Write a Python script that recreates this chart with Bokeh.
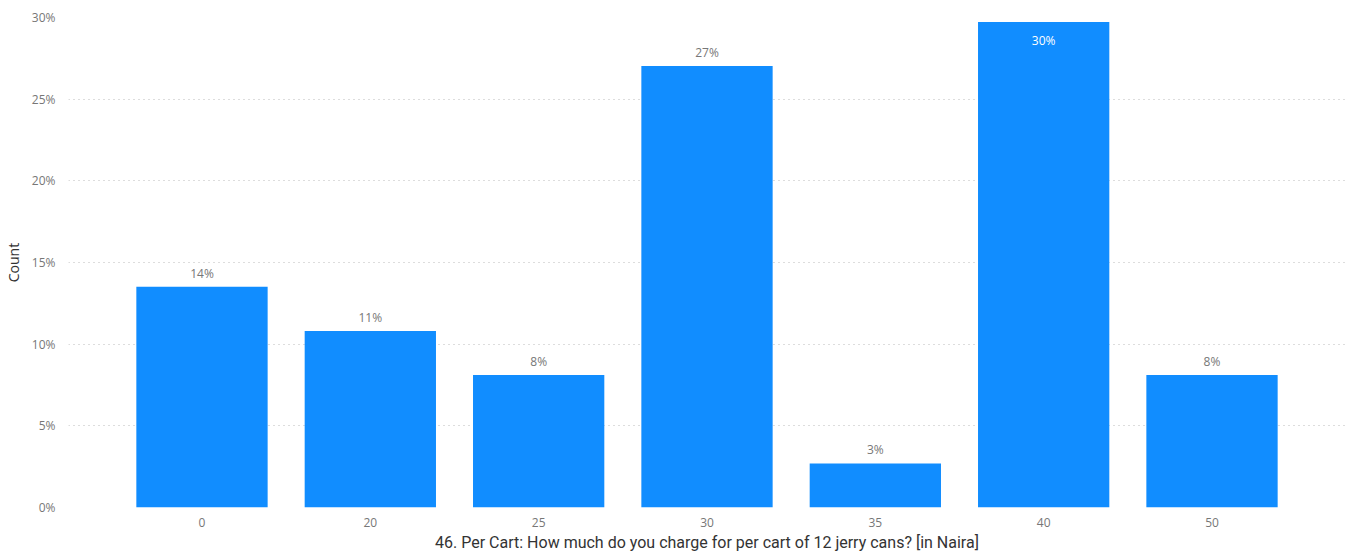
from bokeh.plotting import figure
from bokeh.models import ColumnDataSource, Range1d, NumeralTickFormatter, FixedTicker, LabelSet
from bokeh.core.properties import value
from bokeh.embed import file_html
from bokeh.resources import INLINE

categories = ["0", "20", "25", "30", "35", "40", "50"]
shares = [0.1351, 0.1081, 0.0811, 0.2703, 0.0270, 0.2973, 0.0811]
x_title = "46. Per Cart: How much do you charge for per cart of 12 jerry cans? [in Naira]"
y_title = "Count"

xs = list(range(len(categories)))
labels = [f"{round(v * 100):.0f}%" for v in shares]
inside = [v > 0.28 for v in shares]
src_out = ColumnDataSource(dict(x=[x for x, i in zip(xs, inside) if not i],
                                y=[v for v, i in zip(shares, inside) if not i],
                                t=[t for t, i in zip(labels, inside) if not i]))
src_in = ColumnDataSource(dict(x=[x for x, i in zip(xs, inside) if i],
                               y=[v for v, i in zip(shares, inside) if i],
                               t=[t for t, i in zip(labels, inside) if i]))

p = figure(width=1351, height=554, output_backend="svg", toolbar_location=None,
           x_range=Range1d(-0.793, len(categories) - 1 + 0.793), y_range=Range1d(0, 0.30),
           min_border_left=7, min_border_right=6, min_border_top=17, min_border_bottom=4)
p.outline_line_color = None
p.background_fill_color = "white"
p.border_fill_color = "white"

src = ColumnDataSource(dict(x=xs, top=shares))
p.vbar(x="x", top="top", width=0.78, source=src, fill_color="#118DFF", line_color=None)

font = "Open Sans"
p.xaxis.ticker = FixedTicker(ticks=xs)
p.xaxis.major_label_overrides = {i: c for i, c in enumerate(categories)}
p.xaxis.axis_line_color = None
p.xaxis.major_tick_line_color = None
p.xaxis.minor_tick_line_color = None
p.xaxis.major_label_text_font = font
p.xaxis.major_label_text_font_size = "12px"
p.xaxis.major_label_text_color = "#777777"
p.xaxis.major_label_standoff = 4
p.xaxis.axis_label = x_title
p.xaxis.axis_label_text_font = "Roboto"
p.xaxis.axis_label_text_font_style = "normal"
p.xaxis.axis_label_text_font_size = "16px"
p.xaxis.axis_label_text_color = "#333333"
p.xaxis.axis_label_standoff = 3

p.yaxis.ticker = FixedTicker(ticks=[0, 0.05, 0.10, 0.15, 0.20, 0.25, 0.30])
p.yaxis.formatter = NumeralTickFormatter(format="0%")
p.yaxis.axis_line_color = None
p.yaxis.major_tick_line_color = None
p.yaxis.minor_tick_line_color = None
p.yaxis.major_label_text_font = font
p.yaxis.major_label_text_font_size = "12px"
p.yaxis.major_label_text_color = "#777777"
p.yaxis.major_label_standoff = 7
p.yaxis.axis_label = y_title
p.yaxis.axis_label_text_font = font
p.yaxis.axis_label_text_font_style = "normal"
p.yaxis.axis_label_text_font_size = "14px"
p.yaxis.axis_label_text_color = "#333333"
p.yaxis.axis_label_standoff = 6

p.xgrid.grid_line_color = None
p.ygrid.grid_line_color = "#bbbbbb"
p.ygrid.grid_line_dash = "1 4"
p.ygrid.grid_line_width = 1

p.add_layout(LabelSet(x="x", y="y", text="t", source=src_out, text_align="center",
                      text_baseline="bottom", y_offset=5, text_font=value(font),
                      text_font_size="12px", text_color="#777777"))
p.add_layout(LabelSet(x="x", y="y", text="t", source=src_in, text_align="center",
                      text_baseline="top", y_offset=-10, text_font=value(font),
                      text_font_size="12px", text_color="white"))

open("out.html", "w").write(file_html(p, INLINE))
